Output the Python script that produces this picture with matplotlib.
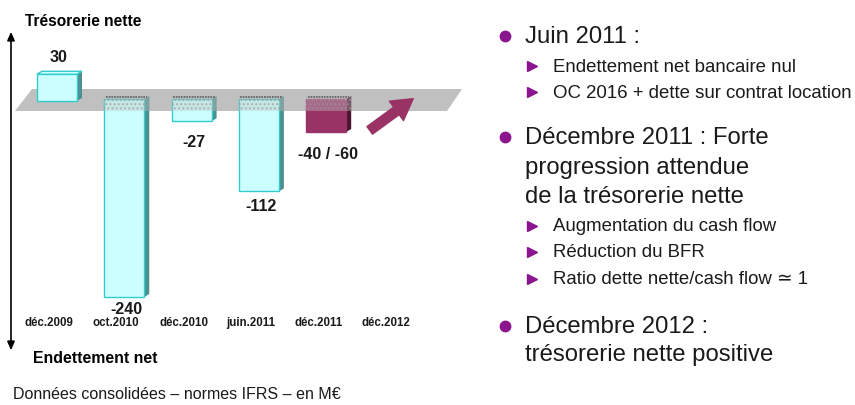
import matplotlib
matplotlib.use("Agg")
import matplotlib.pyplot as plt
from matplotlib.patches import Polygon, Rectangle
from matplotlib.lines import Line2D

plt.rcParams['font.family'] = ['Liberation Sans', 'DejaVu Sans']
plt.rcParams['hatch.linewidth'] = 0.8

# ---------------- data ----------------
categories = ["déc.2009", "oct.2010", "déc.2010", "juin.2011", "déc.2011", "déc.2012"]
values = [30, -240, -27, -112, -40]          # déc.2012: no bar, arrow only
value_labels = ["30", "-240", "-27", "-112", "-40 / -60"]
forecast = [False, False, False, False, True]

title_top = "Trésorerie nette"
title_bottom = "Endettement net"
footer = "Données consolidées – normes IFRS – en M€"

bullets = [
    ("main", ["Juin 2011 :"]),
    ("sub", ["Endettement net bancaire nul"]),
    ("sub", ["OC 2016 + dette sur contrat location"]),
    ("main", ["Décembre 2011 : Forte", "progression attendue", "de la trésorerie nette"]),
    ("sub", ["Augmentation du cash flow"]),
    ("sub", ["Réduction du BFR"]),
    ("sub", ["Ratio dette nette/cash flow ≃ 1"]),
    ("main", ["Décembre 2012 :", "trésorerie nette positive"]),
]

# ---------------- figure ----------------
W, H = 855, 406
fig = plt.figure(figsize=(W / 100, H / 100), dpi=100)
fig.patch.set_facecolor("white")

def fx(px):
    return px / W

def fy(py):
    return 1 - py / H

# axes geometry: 67.3 px per category, 0.825 px per unit, zero at pixel row 100
ax_w_px = 470
ax = fig.add_axes([0, 0, ax_w_px / W, 1])
pxu_x, pxu_y, x0px, y0px = 67.3, 0.825, 57, 100
ax.set_xlim(-x0px / pxu_x, (ax_w_px - x0px) / pxu_x)
ax.set_ylim(-(H - y0px) / pxu_y, y0px / pxu_y)
ax.axis("off")

def dxu(px):
    return px / pxu_x

def dyu(px):
    return px / pxu_y

# grey plane (parallelogram around zero)
p_top, p_bot = dyu(10), -dyu(12)
plane = Polygon([(-0.624, p_bot), (-0.371, p_top), (6.018, p_top), (5.795, p_bot)],
                closed=True, facecolor="#c0c0c0", edgecolor="none", zorder=1)
ax.add_patch(plane)

xs = list(range(len(values)))
bw = 0.594
ddx, ddy = dxu(5), dyu(3)

face_cols = ["#993366" if f else "#ccffff" for f in forecast]
edge_cols = ["#993366" if f else "#33cccc" for f in forecast]
side_cols = ["#4a1530" if f else "#4d8f8f" for f in forecast]
top_cols = ["#a85580" if f else "#ccffff" for f in forecast]

base = -dyu(2)
bars = ax.bar(xs, [v - base if v >= 0 else v for v in values], bottom=[base if v >= 0 else 0 for v in values],
              width=bw, color=face_cols, edgecolor=edge_cols, linewidth=1, zorder=3)

for x, v, sc, tc, ec in zip(xs, values, side_cols, top_cols, edge_cols):
    l, r = x - bw / 2, x + bw / 2
    if v >= 0:
        top = Polygon([(l, v), (l + ddx, v + ddy), (r + ddx, v + ddy), (r, v)],
                      facecolor=tc, edgecolor=ec, lw=1, zorder=4)
        side = Polygon([(r, base), (r, v), (r + ddx, v + ddy), (r + ddx, base + ddy)],
                       facecolor=sc, edgecolor="none", zorder=2.5)
        ax.add_patch(side)
        ax.add_patch(top)
    else:
        side = Polygon([(r, v), (r, 0), (r + ddx, ddy), (r + ddx, v + ddy)],
                       facecolor=sc, edgecolor="none", zorder=2.5)
        ax.add_patch(side)
        # part of the bar seen through the plane: dotted texture
        ov = Rectangle((l, p_bot), bw + ddx, ddy - p_bot, facecolor=(0.75, 0.75, 0.75, 0.40),
                       edgecolor=(0.6, 0.6, 0.6, 0.7), hatch="....", lw=0, zorder=5)
        ax.add_patch(ov)
        ax.plot([l + ddx * 0.3, r + ddx * 0.6], [ddy * 0.6, ddy * 0.6], color="#606060",
                lw=1.2, ls=(0, (1, 0.6)), zorder=6)

# value labels
lab_off_px = [15, 12, 20, 14, 22]
for x, v, t, o in zip(xs, values, value_labels, lab_off_px):
    if v >= 0:
        y = v + ddy + dyu(o)
    else:
        y = v - dyu(o)
    ax.text(x + dxu(2), y, t, ha="center", va="center", fontsize=11.5,
            fontweight="bold", color="#1a1a1a", zorder=7)

# category labels
for i, c in enumerate(categories):
    ax.text(i - dxu(8), -dyu(223), c, ha="center", va="center", fontsize=8.3,
            fontweight="bold", color="#1a1a1a")

# trend arrow for déc.2012
ax.annotate("", xy=(5 + dxu(22), dyu(2)), xytext=(5 - dxu(26), -dyu(33)),
            arrowprops=dict(arrowstyle="simple,head_width=1.15,head_length=1.0,tail_width=0.45",
                            mutation_scale=15, facecolor="#993366", edgecolor="#993366"),
            zorder=6)

# vertical double arrow axis
ax.annotate("", xy=(fx(11) * W / ax_w_px, fy(30)), xytext=(fx(11) * W / ax_w_px, fy(354)),
            xycoords="axes fraction", textcoords="axes fraction",
            arrowprops=dict(arrowstyle="<|-|>,head_length=0.5,head_width=0.22",
                            color="black", lw=1.2, mutation_scale=10))

fig.text(fx(25), fy(22), title_top, fontsize=11.2, fontweight="bold", va="center", ha="left")
fig.text(fx(33), fy(359), title_bottom, fontsize=11.4, fontweight="bold", va="center", ha="left")
fig.text(fx(13), fy(395), footer, fontsize=11.5, va="center", ha="left", color="#1a1a1a")

# right-hand text
main_fs, sub_fs = 17.2, 13.4
purple = "#8a168f"
rows_y = {
    0: [37], 1: [67], 2: [93], 3: [138, 168, 197], 4: [227], 5: [253], 6: [280], 7: [327, 355]
}
for i, (kind, lines) in enumerate(bullets):
    ys = rows_y[i]
    if kind == "main":
        fig.add_artist(Line2D([fx(505)], [fy(ys[0])], marker="o", markersize=7.5,
                              color=purple, transform=fig.transFigure))
        for y, t in zip(ys, lines):
            fig.text(fx(525), fy(y), t, fontsize=main_fs, va="center", ha="left", color="#1a1a1a")
    else:
        fig.add_artist(Line2D([fx(532)], [fy(ys[0])], marker=">", markersize=7,
                              color=purple, transform=fig.transFigure))
        for y, t in zip(ys, lines):
            fig.text(fx(553), fy(y), t, fontsize=sub_fs, va="center", ha="left", color="#1a1a1a")

fig.savefig("out.png", dpi=100, facecolor="white")
